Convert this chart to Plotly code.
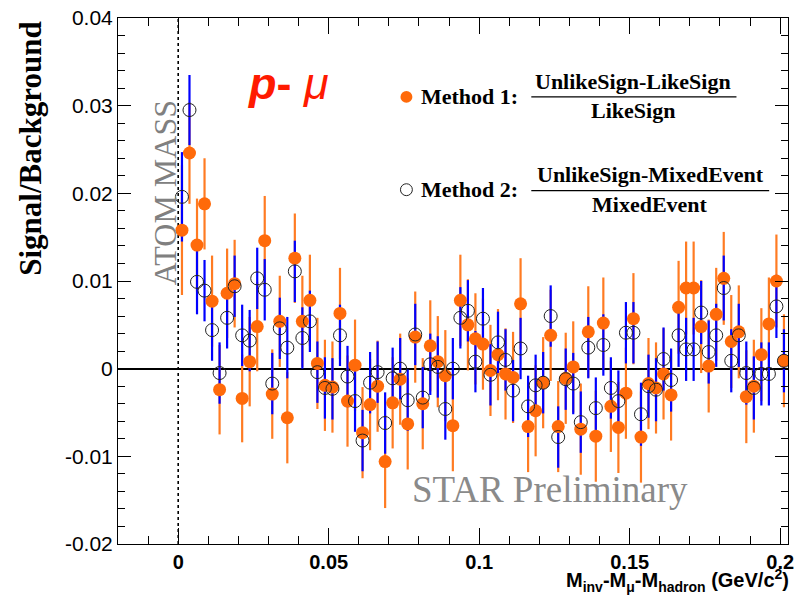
import plotly.graph_objects as go

# ---------------- data ----------------
bin_width = 0.0025
n_bins = 81
x_centers = [bin_width * (i + 0.5) for i in range(n_bins)]

method1 = [0.0158, 0.0246, 0.0141, 0.0188, 0.0077, -0.0024, 0.0086, 0.0097, -0.0034, 0.0008,
           0.0048, 0.0146, -0.0029, 0.0054, -0.0056, 0.0126, 0.0054, 0.0078, 0.0006, -0.0019,
           -0.0021, 0.0063, -0.0037, 0.0004, -0.0073, -0.0041, -0.0020, -0.0106, -0.0039, -0.0012,
           -0.0063, 0.0036, -0.0040, 0.0026, 0.0008, -0.0008, -0.0065, 0.0078, 0.0050, 0.0034,
           0.0028, -0.0002, 0.0016, -0.0006, -0.0010, 0.0074, -0.0066, -0.0048, -0.0016, 0.0038,
           -0.0066, -0.0011, 0.0002, -0.0069, 0.0042, -0.0077, 0.0052, -0.0043, -0.0067, -0.0028,
           0.0057, -0.0078, -0.0017, -0.0022, -0.0006, -0.0030, 0.0070, 0.0092, 0.0092, 0.0048,
           0.0003, 0.0062, 0.0103, 0.0031, 0.0042, -0.0032, -0.0020, 0.0016, 0.0051, 0.0100,
           0.0009]
method1_err = [0.0074, 0.0058, 0.0053, 0.0052, 0.0052, 0.0051, 0.0051, 0.0050, 0.0050, 0.0051,
               0.0051, 0.0051, 0.0051, 0.0052, 0.0052, 0.0051, 0.0052, 0.0052, 0.0052, 0.0052,
               0.0052, 0.0052, 0.0052, 0.0052, 0.0052, 0.0052, 0.0052, 0.0053, 0.0052, 0.0052,
               0.0052, 0.0052, 0.0052, 0.0052, 0.0052, 0.0052, 0.0052, 0.0052, 0.0052, 0.0052,
               0.0052, 0.0052, 0.0052, 0.0052, 0.0052, 0.0052, 0.0052, 0.0052, 0.0052, 0.0052,
               0.0052, 0.0052, 0.0052, 0.0052, 0.0052, 0.0052, 0.0052, 0.0052, 0.0052, 0.0052,
               0.0052, 0.0052, 0.0052, 0.0052, 0.0052, 0.0052, 0.0053, 0.0053, 0.0053, 0.0053,
               0.0053, 0.0053, 0.0053, 0.0053, 0.0053, 0.0053, 0.0053, 0.0053, 0.0053, 0.0053,
               0.0053]

method2 = [0.0196, 0.0295, 0.0099, 0.0089, 0.0044, -0.0005, 0.0058, 0.0094, 0.0038, 0.0032,
           0.0103, 0.0090, -0.0017, 0.0046, 0.0024, 0.0111, 0.0035, 0.0054, -0.0004, -0.0022,
           -0.0023, 0.0038, -0.0009, -0.0037, -0.0082, -0.0016, -0.0004, -0.0062, -0.0011, 0.0000,
           -0.0036, 0.0039, -0.0033, 0.0005, 0.0002, -0.0046, 0.0000, 0.0058, 0.0066, 0.0008,
           0.0057, -0.0007, 0.0030, 0.0010, -0.0025, 0.0023, -0.0043, -0.0019, -0.0016, 0.0060,
           -0.0078, -0.0012, -0.0017, -0.0061, 0.0024, -0.0045, 0.0027, -0.0022, -0.0037, 0.0041,
           0.0041, -0.0052, -0.0020, -0.0024, 0.0011, -0.0013, 0.0038, 0.0022, 0.0022, 0.0064,
           0.0019, 0.0038, 0.0092, 0.0009, 0.0038, -0.0005, -0.0022, -0.0006, -0.0006, 0.0071,
           0.0009]
method2_err = [0.0051, 0.0040, 0.0037, 0.0035, 0.0035, 0.0035, 0.0035, 0.0035, 0.0035, 0.0035,
               0.0035, 0.0035, 0.0035, 0.0035, 0.0035, 0.0035, 0.0035, 0.0035, 0.0035, 0.0035,
               0.0035, 0.0035, 0.0035, 0.0035, 0.0035, 0.0035, 0.0035, 0.0035, 0.0035, 0.0035,
               0.0035, 0.0035, 0.0035, 0.0035, 0.0035, 0.0035, 0.0035, 0.0035, 0.0035, 0.0035,
               0.0035, 0.0035, 0.0035, 0.0035, 0.0035, 0.0035, 0.0035, 0.0035, 0.0035, 0.0035,
               0.0035, 0.0035, 0.0035, 0.0035, 0.0035, 0.0035, 0.0035, 0.0035, 0.0035, 0.0035,
               0.0035, 0.0036, 0.0036, 0.0036, 0.0036, 0.0036, 0.0036, 0.0036, 0.0036, 0.0036,
               0.0036, 0.0036, 0.0037, 0.0036, 0.0036, 0.0036, 0.0036, 0.0036, 0.0036, 0.0036,
               0.0036]

x_tickvals = [0, 0.05, 0.1, 0.15, 0.2]
x_ticktext = ["0", "0.05", "0.1", "0.15", "0.2"]
y_tickvals = [-0.02, -0.01, 0, 0.01, 0.02, 0.03, 0.04]
y_ticktext = ["-0.02", "-0.01", "0", "0.01", "0.02", "0.03", "0.04"]

# ---------------- style ----------------
ORANGE = "#ff6a0a"
ORANGE_BAR = "#ff7b22"
BLUE = "#0000ff"
W, H = 800, 597
L, R, T, B = 118, 6, 14, 53
PW, PH = W - L - R, H - T - B


def px(xp):
    return (xp - L) / PW


def py(yp):
    return (H - B - yp) / PH


fig = go.Figure()
fig.add_trace(go.Scatter(x=x_centers, y=method1, mode="markers",
                         marker=dict(size=2, color="rgba(0,0,0,0)"),
                         error_y=dict(type="data", array=method1_err, color=ORANGE_BAR,
                                      thickness=2.2, width=0),
                         showlegend=False, hoverinfo="skip"))
fig.add_trace(go.Scatter(x=x_centers, y=method2, mode="markers",
                         marker=dict(size=2, color="rgba(0,0,0,0)"),
                         error_y=dict(type="data", array=method2_err, color=BLUE,
                                      thickness=2.2, width=0),
                         showlegend=False, hoverinfo="skip"))
fig.add_trace(go.Scatter(x=x_centers, y=method1, mode="markers",
                         marker=dict(size=13, color=ORANGE, line=dict(width=0)),
                         name="Method 1", showlegend=False))
fig.add_trace(go.Scatter(x=x_centers, y=method2, mode="markers",
                         marker=dict(size=13, symbol="circle-open", color="#222222",
                                     line=dict(width=1, color="#222222")),
                         name="Method 2", showlegend=False))

shapes = [
    dict(type="line", xref="x", yref="y", x0=0, x1=0, y0=-0.02, y1=0.04,
         line=dict(color="black", width=1.6, dash="dot"), layer="below"),
    # legend fraction bars
    dict(type="line", xref="paper", yref="paper", x0=px(535), x1=px(742), y0=py(93.5), y1=py(93.5),
         line=dict(color="black", width=1.2)),
    dict(type="line", xref="paper", yref="paper", x0=px(535), x1=px(775), y0=py(188), y1=py(188),
         line=dict(color="black", width=1.2)),
    # legend markers
    dict(type="circle", xref="paper", yref="paper", x0=px(403), x1=px(415), y0=py(99.5), y1=py(87.5),
         fillcolor=ORANGE, line=dict(width=0)),
    dict(type="circle", xref="paper", yref="paper", x0=px(403), x1=px(415), y0=py(193), y1=py(181),
         fillcolor="rgba(0,0,0,0)", line=dict(width=1, color="#222222")),
]

SERIF = "Liberation Serif"
SANS = "Liberation Sans"
ann = [
    dict(text="<b>Signal/Background</b>", x=px(29), y=py(146), textangle=-90,
         font=dict(family=SERIF, size=31, color="black")),
    dict(text="ATOM MASS", x=px(165), y=py(190), textangle=-90,
         font=dict(family=SERIF, size=32, color="#808080")),
    dict(text="<b><i>p</i>- </b><i>μ</i>", x=px(290), y=py(80),
         font=dict(family=SANS, size=45, color="#ff1a00")),
    dict(text="<b>Method 1:</b>", x=px(422), y=py(93), xanchor="left",
         font=dict(family=SERIF, size=22, color="black")),
    dict(text="<b>UnlikeSign-LikeSign</b>", x=px(638), y=py(78),
         font=dict(family=SERIF, size=22, color="black")),
    dict(text="<b>LikeSign</b>", x=px(638), y=py(107),
         font=dict(family=SERIF, size=22, color="black")),
    dict(text="<b>Method 2:</b>", x=px(422), y=py(187), xanchor="left",
         font=dict(family=SERIF, size=22, color="black")),
    dict(text="<b>UnlikeSign-MixedEvent</b>", x=px(655), y=py(172),
         font=dict(family=SERIF, size=22, color="black")),
    dict(text="<b>MixedEvent</b>", x=px(655), y=py(202),
         font=dict(family=SERIF, size=22, color="black")),
    dict(text="STAR Preliminary", x=px(554), y=py(489),
         font=dict(family=SERIF, size=37, color="#8a8a8a")),
    dict(text="<b>M<sub>inv</sub>-M<sub>μ</sub>-M<sub>hadron</sub> (GeV/c<sup>2</sup>)</b>",
         x=px(797), y=py(597), xanchor="right", yanchor="bottom",
         font=dict(family=SANS, size=20, color="black")),
]
for a in ann:
    a.setdefault("xref", "paper")
    a.setdefault("yref", "paper")
    a.setdefault("showarrow", False)
    a.setdefault("xanchor", "center")
    a.setdefault("yanchor", "middle")

fig.update_layout(
    width=W, height=H,
    margin=dict(l=L, r=R, t=T, b=B, pad=0),
    paper_bgcolor="white", plot_bgcolor="white",
    shapes=shapes, annotations=ann, showlegend=False,
    xaxis=dict(range=[-0.02, 0.2026], showgrid=False, zeroline=False,
               showline=True, linecolor="black", linewidth=1, mirror="ticks",
               ticks="inside", ticklen=16, tickcolor="black", tickwidth=1,
               tickvals=x_tickvals, ticktext=["<b>%s</b>" % t for t in x_ticktext],
               tickfont=dict(family=SANS, size=20, color="black"),
               ticklabelstandoff=0, ticklabeloverflow="allow",
               minor=dict(dtick=0.01, tick0=0, ticks="inside", ticklen=8,
                          tickcolor="black", tickwidth=1, showgrid=False)),
    yaxis=dict(range=[-0.02, 0.04], showgrid=False,
               zeroline=True, zerolinecolor="black", zerolinewidth=2,
               showline=True, linecolor="black", linewidth=1, mirror="ticks",
               ticks="inside", ticklen=13, tickcolor="black", tickwidth=1,
               tickvals=y_tickvals, ticktext=y_ticktext,
               tickfont=dict(family=SANS, size=21, color="black"),
               minor=dict(dtick=0.002, tick0=0, ticks="inside", ticklen=7,
                          tickcolor="black", tickwidth=1, showgrid=False)),
)

fig.write_html("out.html")
